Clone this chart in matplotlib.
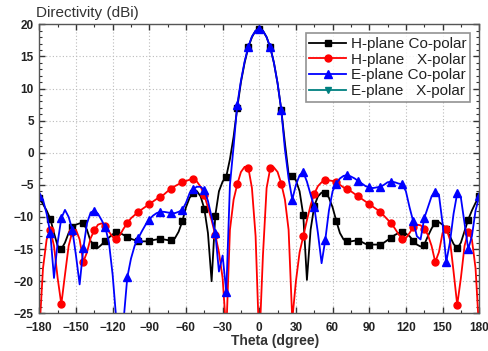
import numpy as np
import matplotlib
matplotlib.use("Agg")
import matplotlib.pyplot as plt
from matplotlib.ticker import MultipleLocator

# Theta grid (degrees), 3-degree step; markers every 9 degrees
theta = list(range(-180, 181, 3))

h_co = [-7.0, -8.0, -9.0, -10.3, -12.5, -14.5, -15.0, -14.0, -12.5, -11.5,
        -11.2, -11.0, -11.0, -12.0, -13.8, -14.3, -14.8, -14.3, -13.7, -13.2,
        -12.7, -12.4, -12.5, -12.8, -13.1, -13.4, -13.6, -13.7, -13.8, -13.8,
        -13.7, -13.6, -13.5, -13.4, -13.5, -13.6, -13.6, -13.3, -12.3, -10.7,
        -8.5, -7.0, -6.3, -6.0, -6.8, -8.7, -12.5, -20.0, -9.8, -6.0,
        -4.5, -3.7, -1.0, 2.5, 7.0, 11.0, 14.0, 16.4, 18.0, 19.0,
        19.3, 19.0, 18.0, 16.4, 14.0, 10.8, 6.7, 1.5, -3.3, -3.6,
        -4.3, -6.0, -9.7, -19.8, -12.0, -8.3, -6.8, -6.2, -6.2, -7.0,
        -8.5, -10.6, -12.5, -13.5, -13.8, -13.8, -13.7, -13.7, -13.9, -14.2,
        -14.3, -14.3, -14.3, -14.3, -14.0, -13.6, -13.2, -12.8, -12.5, -12.4,
        -12.6, -13.0, -13.7, -14.3, -14.6, -14.3, -13.0, -11.8, -10.9, -10.8,
        -11.2, -11.9, -13.0, -14.2, -14.9, -14.0, -12.2, -10.4, -9.0, -7.8,
        -6.8]

h_x = [-28.0, -18.0, -13.5, -12.0, -14.5, -19.5, -23.6, -19.0, -14.5, -12.3,
       -12.0, -13.5, -17.0, -15.5, -13.3, -12.1, -11.2, -11.0, -11.4, -12.3,
       -13.1, -13.4, -12.8, -11.8, -11.0, -10.2, -9.7, -9.3, -8.8, -8.4,
       -8.0, -7.6, -7.2, -6.9, -6.5, -6.0, -5.6, -5.2, -4.9, -4.6,
       -4.4, -4.2, -4.1, -4.5, -5.3, -6.6, -8.5, -10.5, -12.8, -15.5,
       -19.5, -28.0, -12.0, -7.3, -4.9, -3.0, -2.2, -2.3, -5.5, -13.0,
       -30.0, -16.0, -5.5, -2.4, -2.3, -3.0, -4.8, -7.3, -12.0, -26.0,
       -20.0, -15.5, -13.0, -10.5, -8.2, -6.4, -5.2, -4.6, -4.3, -4.3,
       -4.4, -4.6, -5.0, -5.4, -5.7, -6.0, -6.4, -6.8, -7.2, -7.6,
       -8.0, -8.4, -8.8, -9.2, -9.8, -10.4, -11.0, -11.8, -12.7, -13.4,
       -13.3, -12.5, -11.6, -11.2, -11.3, -11.8, -12.8, -14.5, -17.0, -15.5,
       -12.5, -11.8, -13.5, -18.5, -23.7, -19.5, -14.5, -12.3, -13.5, -18.0,
       -28.0]

e_co = [-6.8, -7.3, -9.5, -12.5, -19.5, -14.0, -10.2, -8.9, -10.0, -12.0,
        -16.0, -20.5, -14.9, -11.0, -9.3, -9.0, -9.5, -10.5, -11.6, -14.0,
        -19.0, -26.0, -30.0, -26.0, -19.4, -16.5, -14.5, -13.3, -12.2, -11.2,
        -10.4, -9.8, -9.4, -9.2, -9.2, -9.3, -9.4, -9.4, -9.2, -8.9,
        -7.8, -6.3, -5.6, -5.3, -5.3, -5.8, -7.5, -10.0, -12.5, -18.5,
        -16.0, -21.7, -5.0, 1.0, 7.5, 11.2, 14.2, 16.5, 18.1, 19.0,
        19.3, 19.0, 18.0, 16.4, 14.0, 10.8, 6.7, 0.5, -4.0, -7.3,
        -5.0, -3.5, -3.0, -4.5, -6.5, -8.4, -12.5, -17.2, -13.6, -9.0,
        -6.0, -4.8, -4.0, -3.6, -3.5, -3.7, -4.0, -4.4, -4.8, -5.2,
        -5.4, -5.5, -5.4, -5.3, -5.0, -4.6, -4.5, -4.6, -4.8, -4.9,
        -6.0, -8.5, -10.7, -13.0, -13.5, -10.2, -8.5, -6.8, -6.1, -6.5,
        -11.0, -17.0, -14.0, -9.5, -6.3, -7.0, -11.0, -15.0, -13.0, -9.0,
        -6.8]

# E-plane X-polar: not visible inside the plotted range (legend only)
e_x_theta = []
e_x = []

x_ticks = list(range(-180, 181, 30))
y_ticks = list(range(-25, 21, 5))

fig = plt.figure(figsize=(4.89, 3.51), dpi=100)
ax = fig.add_axes([0.0804, 0.1074, 0.8996, 0.8234])

lw = 1.3
ms = 5
ax.plot(theta, h_co, color="black", lw=lw, marker="s", ms=ms, markevery=3,
        label="H-plane Co-polar")
ax.plot(theta, h_x, color="#ff0000", lw=lw, marker="o", ms=ms, markevery=3,
        label="H-plane   X-polar")
ax.plot(theta, e_co, color="#0000ff", lw=lw, marker="^", ms=ms + 0.5, markevery=3,
        label="E-plane Co-polar")
ax.plot(e_x_theta, e_x, color="#008080", lw=lw, marker="v", ms=ms,
        label="E-plane   X-polar")

ax.set_xlim(-180, 180)
ax.set_ylim(-25, 20)
ax.set_xticks(x_ticks)
ax.set_yticks(y_ticks)
ax.xaxis.set_minor_locator(MultipleLocator(15))
ax.yaxis.set_minor_locator(MultipleLocator(1))
ax.tick_params(which="both", direction="in", top=True, right=True,
               colors="#333333", labelcolor="#222222")
ax.tick_params(which="major", length=4, width=1.0, labelsize=8.5)
ax.tick_params(axis="x", which="major", pad=6)
ax.tick_params(axis="y", which="major", pad=4)
ax.tick_params(which="minor", length=2, width=0.8)
for lab in ax.get_xticklabels() + ax.get_yticklabels():
    lab.set_fontweight("bold")
    lab.set_family("Liberation Sans")

ax.grid(True, which="major", color="#bbbbbb", linestyle=(0, (1, 2)), lw=0.8)
for sp in ax.spines.values():
    sp.set_color("#555555")
    sp.set_linewidth(1.0)

fig.text(36 / 489, 1 - 13 / 351, "Directivity (dBi)", fontsize=11, family="Liberation Sans",
         color="#333333", ha="left", va="center")
ax.set_xlabel("Theta (dgree)", fontsize=10, family="Liberation Sans",
              fontweight="bold", color="#333333")
ax.xaxis.set_label_coords(0.536, -0.07)

leg = ax.legend(loc="upper right", frameon=True, fancybox=False,
                edgecolor="#777777", borderpad=0.25, labelspacing=0.1,
                handlelength=2.4, handletextpad=0.3, borderaxespad=0.6,
                prop={"family": "Liberation Sans", "size": 11})
leg.get_frame().set_linewidth(1.2)
for t in leg.get_texts():
    t.set_color("#222222")

fig.savefig("out.png", dpi=100)
